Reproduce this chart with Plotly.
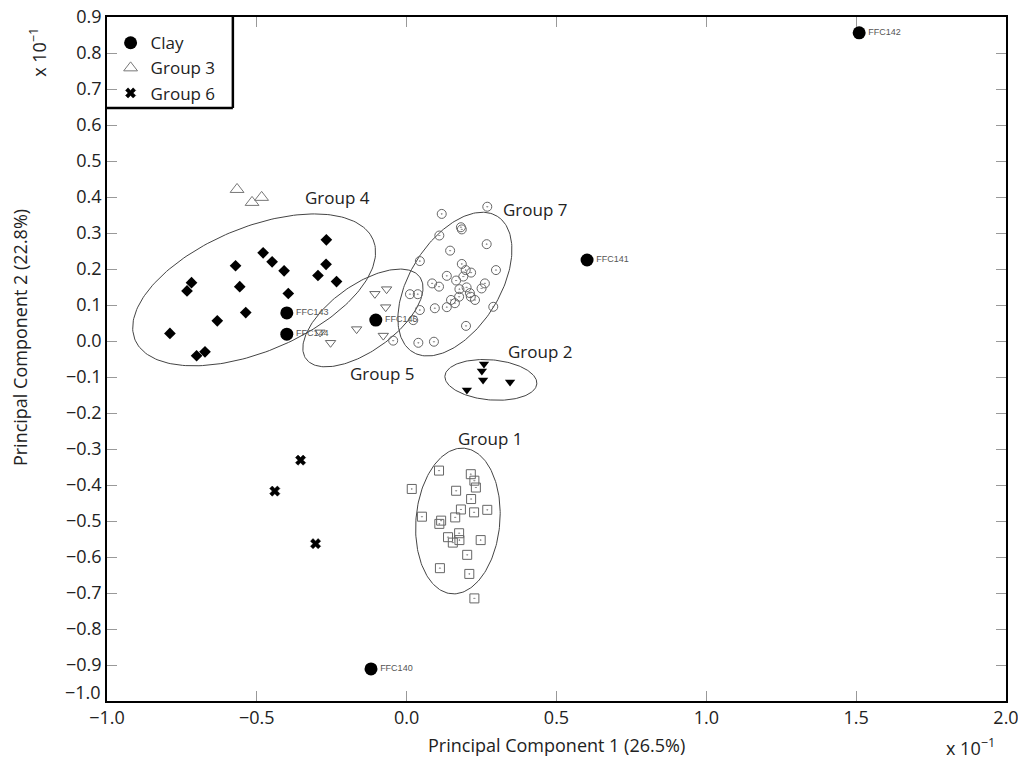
import numpy as np
import plotly.graph_objects as go

# ---------------- data (axis units, x10^-1) ----------------
clay_x = [1.510, 0.602, -0.119, -0.400, -0.400, -0.103]
clay_y = [0.856, 0.225, -0.911, 0.078, 0.019, 0.058]
clay_lbl = ["FFC142", "FFC141", "FFC140", "FFC143", "FFC144", "FFC145"]

g3_x = [-0.566, -0.516, -0.484]
g3_y = [0.421, 0.385, 0.399]

g6_x = [-0.354, -0.440, -0.304]
g6_y = [-0.331, -0.417, -0.563]

g4_x = [-0.268, -0.479, -0.449, -0.571, -0.269, -0.409, -0.296, -0.234, -0.718,
        -0.733, -0.557, -0.395, -0.537, -0.632, -0.790, -0.673, -0.701]
g4_y = [0.281, 0.245, 0.220, 0.209, 0.213, 0.195, 0.182, 0.165, 0.162,
        0.139, 0.151, 0.132, 0.079, 0.056, 0.021, -0.030, -0.041]

g2_x = [0.258, 0.251, 0.255, 0.345, 0.201]
g2_y = [-0.064, -0.083, -0.108, -0.114, -0.136]

g5_x = [-0.106, -0.067, -0.070, -0.167, -0.254, -0.078, -0.289]
g5_y = [0.131, 0.144, 0.094, 0.033, -0.005, 0.015, 0.024]

g1_x = [0.108, 0.017, 0.214, 0.226, 0.231, 0.165, 0.215, 0.181, 0.225, 0.269,
        0.051, 0.115, 0.109, 0.162, 0.175, 0.138, 0.176, 0.154, 0.247, 0.202,
        0.111, 0.209, 0.226]
g1_y = [-0.360, -0.411, -0.370, -0.388, -0.407, -0.416, -0.439, -0.468, -0.476, -0.469,
        -0.488, -0.499, -0.508, -0.490, -0.534, -0.545, -0.553, -0.560, -0.553, -0.594,
        -0.631, -0.647, -0.715]

g7_x = [0.269, 0.117, 0.181, 0.184, 0.109, 0.267, 0.145, 0.044, 0.298, 0.184,
        0.197, 0.215, 0.134, 0.189, 0.165, 0.261, 0.085, 0.108, 0.200, 0.176,
        0.211, 0.250, 0.175, 0.214, 0.228, 0.148, 0.134, 0.161, 0.011, 0.037,
        0.094, 0.044, 0.022, 0.289, 0.198, 0.039, 0.091, -0.045]
g7_y = [0.373, 0.353, 0.316, 0.310, 0.293, 0.269, 0.251, 0.222, 0.197, 0.214,
        0.197, 0.190, 0.181, 0.179, 0.168, 0.160, 0.160, 0.151, 0.149, 0.144,
        0.133, 0.146, 0.123, 0.123, 0.114, 0.114, 0.094, 0.105, 0.130, 0.130,
        0.091, 0.086, 0.058, 0.095, 0.042, -0.005, -0.002, 0.001]

group_names = ["Group 4", "Group 7", "Group 2", "Group 5", "Group 1"]
group_lbl_x = [-0.23, 0.43, 0.445, -0.08, 0.28]
group_lbl_y = [0.40, 0.365, -0.03, -0.09, -0.27]

y_tick_vals = [round(-1.0 + 0.1 * i, 1) for i in range(20)]
x_tick_vals = [-1.0, -0.5, 0.0, 0.5, 1.0, 1.5, 2.0]

# ellipse: centre (data), semi-axes a, b (x-axis units), rotation (deg, on screen)
ell_cx = [-0.509, -0.146, 0.161, 0.281, 0.171]
ell_cy = [0.142, 0.064, 0.158, -0.108, -0.500]
ell_a = [0.431, 0.234, 0.267, 0.154, 0.244]
ell_b = [0.207, 0.110, 0.150, 0.067, 0.140]
ell_ang = [22.8, 35.7, 58.0, -5.0, 85.0]

ASPECT = 360.0 / 299.5  # px per y-unit / px per x-unit

FONT = "Open Sans"
TXT = "#222"
fig = go.Figure()

t = np.linspace(0, 2 * np.pi, 200)
for cx, cy, a, b, ang in zip(ell_cx, ell_cy, ell_a, ell_b, ell_ang):
    th = np.deg2rad(ang)
    u, v = a * np.cos(t), b * np.sin(t)
    ex = cx + u * np.cos(th) - v * np.sin(th)
    ey = cy + (u * np.sin(th) + v * np.cos(th)) / ASPECT
    fig.add_trace(go.Scatter(x=ex, y=ey, mode="lines", line=dict(color="#444", width=1),
                             showlegend=False, hoverinfo="skip"))

fig.add_trace(go.Scatter(x=g7_x, y=g7_y, mode="markers", showlegend=False,
                         marker=dict(symbol="circle-open-dot", size=9, color="#666",
                                     line=dict(width=1, color="#666"))))
fig.add_trace(go.Scatter(x=g1_x, y=g1_y, mode="markers", showlegend=False,
                         marker=dict(symbol="square-open-dot", size=9, color="#666",
                                     line=dict(width=1, color="#666"))))
fig.add_trace(go.Scatter(x=g5_x, y=g5_y, mode="markers", showlegend=False,
                         marker=dict(symbol="triangle-down-open", size=9, color="#666",
                                     line=dict(width=1, color="#666"))))
fig.add_trace(go.Scatter(x=g4_x, y=g4_y, mode="markers", showlegend=False,
                         marker=dict(symbol="diamond", size=9, color="black")))
fig.add_trace(go.Scatter(x=g2_x, y=g2_y, mode="markers", showlegend=False,
                         marker=dict(symbol="triangle-down", size=9, color="black")))

fig.add_trace(go.Scatter(x=clay_x, y=clay_y, mode="markers+text", name="Clay",
                         text=clay_lbl, textposition="middle right",
                         textfont=dict(size=9, color="#555", family="Liberation Sans"),
                         marker=dict(symbol="circle", size=13, color="black")))
fig.add_trace(go.Scatter(x=g3_x, y=g3_y, mode="markers", name="Group 3",
                         marker=dict(symbol="triangle-up-open", size=12, color="#777",
                                     line=dict(width=1, color="#777"))))
fig.add_trace(go.Scatter(x=g6_x, y=g6_y, mode="markers", name="Group 6",
                         marker=dict(symbol="x", size=9, color="black",
                                     line=dict(width=0.5, color="black"))))

for nm, lx, ly in zip(group_names, group_lbl_x, group_lbl_y):
    fig.add_annotation(x=lx, y=ly, text=nm, showarrow=False,
                       font=dict(size=17, color=TXT, family=FONT))

# lowest y tick label is nudged upward (as in the original) to clear the x labels
fig.add_annotation(xref="paper", x=0, xanchor="right", xshift=-4, y=y_tick_vals[0],
                   yanchor="middle", yshift=9,
                   text=f"{y_tick_vals[0]:.1f}".replace("-", "−"),
                   showarrow=False, font=dict(size=18, color=TXT, family=FONT))

# axis titles and exponent labels
fig.add_annotation(xref="paper", yref="paper", x=0.5, xanchor="center", y=-0.065,
                   yanchor="middle", text="Principal Component 1 (26.5%)", showarrow=False,
                   font=dict(size=18, color=TXT, family=FONT))
fig.add_annotation(xref="paper", yref="paper", x=-0.0968, xanchor="center", y=0.532,
                   yanchor="middle", text="Principal Component 2 (22.8%)", textangle=-90,
                   showarrow=False, font=dict(size=18, color=TXT, family=FONT))
fig.add_annotation(xref="paper", yref="paper", x=-0.0768, xanchor="center", y=0.949,
                   yanchor="middle", text="x 10<sup>−1</sup>", textangle=-90,
                   showarrow=False, font=dict(size=18, color=TXT, family=FONT))
fig.add_annotation(xref="paper", yref="paper", x=0.960, xanchor="center", y=-0.0675,
                   yanchor="middle", text="x 10<sup>−1</sup>",
                   showarrow=False, font=dict(size=18, color=TXT, family=FONT))

# legend frame (thick right and bottom edges)
fig.add_shape(type="line", xref="paper", yref="paper", x0=0.140, x1=0.140, y0=0.867, y1=1.0,
              line=dict(color="black", width=2.5))
fig.add_shape(type="line", xref="paper", yref="paper", x0=0.0, x1=0.140, y0=0.867, y1=0.867,
              line=dict(color="black", width=2.5))

axis_common = dict(showgrid=False, zeroline=False, showline=True, linecolor="black",
                   linewidth=1.5, mirror="ticks", ticks="inside", ticklen=10,
                   tickcolor="#999", tickwidth=1, automargin=False,
                   ticklabeloverflow="allow",
                   tickfont=dict(size=18, color=TXT, family=FONT))
fig.update_xaxes(range=[-1.0, 2.0], tickvals=x_tick_vals, tickformat=".1f", **axis_common)
fig.update_yaxes(range=[-1.0, 0.9], tickvals=y_tick_vals,
                 ticktext=[""] + [f"{v:.1f}".replace("-", "−") for v in y_tick_vals[1:]],
                 **axis_common)

# page body has an 8px margin: figure is placed at (8, 8)
fig.update_layout(
    width=1010, height=748,
    margin=dict(l=99, r=12, t=9, b=55, autoexpand=False),
    plot_bgcolor="white", paper_bgcolor="white",
    font=dict(family=FONT),
    legend=dict(x=0.004, y=0.988, xanchor="left", yanchor="top", bgcolor="rgba(0,0,0,0)",
                font=dict(size=17, color=TXT, family=FONT), itemwidth=30,
                tracegroupgap=0),
)

fig.write_html("out.html")
